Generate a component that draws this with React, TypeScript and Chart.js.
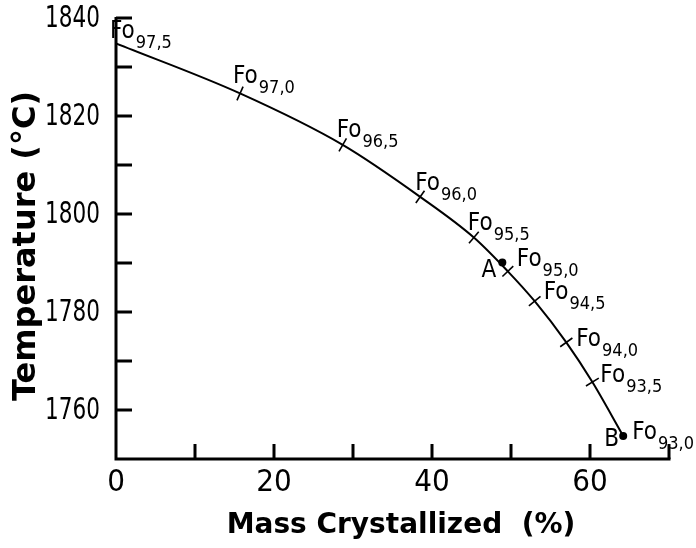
import React, { useEffect, useRef } from "react";
import { Chart, registerables } from "chart.js";

Chart.register(...registerables);

// Data
const massCrystallized = [0, 15.7, 28.7, 38.5, 45.3, 49.6, 53.0, 57.0, 60.3, 64.2];
const temperature = [1834.8, 1824.6, 1814.1, 1803.5, 1795.2, 1788.3, 1782.2, 1773.8, 1765.7, 1754.7];
const foLabels = ["97,5", "97,0", "96,5", "96,0", "95,5", "95,0", "94,5", "94,0", "93,5", "93,0"];
const pointNames = ["A", "B"];
const pointMass = [48.9, 64.2];
const pointTemp = [1790.1, 1754.7];
const xTickLabels = [0, 20, 40, 60];
const xTickMarks = [10, 20, 30, 40, 50, 60, 70];
const yTickLabels = [1760, 1780, 1800, 1820, 1840];
const yTickMarks = [1760, 1770, 1780, 1790, 1800, 1810, 1820, 1830, 1840];

// label placement (px offsets from the mark: dx, baseline dy)
const foOffsets = [
  [-6, -5], [-7, -10], [-6, -8], [-5, -7], [-6, -8],
  [9, -5], [9, -2], [10, 4], [8, 0], [9, 3],
];
const abOffsets = [
  [-6, 14], [-4, 10],
];

const X_MIN = 0, X_MAX = 70, Y_MIN = 1750, Y_MAX = 1840;
const FONT = "'DejaVu Sans Condensed', 'DejaVu Sans', sans-serif";
const BOLD = "'DejaVu Sans', sans-serif";

const overlay = {
  id: "overlay",
  afterDatasetsDraw(chart: any) {
    const { ctx } = chart;
    const xs = chart.scales.x, ys = chart.scales.y;
    const x0 = xs.getPixelForValue(X_MIN);
    const y0 = ys.getPixelForValue(Y_MIN);
    ctx.save();
    ctx.strokeStyle = "#000";
    ctx.fillStyle = "#000";
    ctx.lineWidth = 3;
    ctx.lineCap = "butt";
    ctx.beginPath();
    ctx.moveTo(x0, ys.getPixelForValue(Y_MAX) - 1);
    ctx.lineTo(x0, y0);
    ctx.lineTo(xs.getPixelForValue(X_MAX) + 1.5, y0);
    ctx.stroke();
    ctx.beginPath();
    for (const v of xTickMarks) {
      const px = xs.getPixelForValue(v);
      ctx.moveTo(px, y0);
      ctx.lineTo(px, y0 - 15);
    }
    for (const v of yTickMarks) {
      const py = ys.getPixelForValue(v);
      ctx.moveTo(x0, py);
      ctx.lineTo(x0 + 16, py);
    }
    ctx.stroke();

    // y tick labels (narrow)
    ctx.font = `30px ${FONT}`;
    ctx.textAlign = "right";
    ctx.textBaseline = "middle";
    for (const v of yTickLabels) {
      const py = ys.getPixelForValue(v);
      ctx.save();
      ctx.translate(x0 - 16, py + 1);
      ctx.scale(0.8, 1);
      ctx.fillText(String(v), 0, 0);
      ctx.restore();
    }

    // Fo labels
    ctx.textBaseline = "alphabetic";
    ctx.textAlign = "left";
    foLabels.forEach((lab, i) => {
      const px = xs.getPixelForValue(massCrystallized[i]) + foOffsets[i][0];
      const py = ys.getPixelForValue(temperature[i]) + foOffsets[i][1];
      ctx.font = `24px ${FONT}`;
      ctx.fillText("Fo", px, py);
      const w = ctx.measureText("Fo").width;
      ctx.font = `18px ${FONT}`;
      ctx.fillText(lab, px + w + 1, py + 10);
    });

    // A, B
    ctx.font = `24px ${FONT}`;
    ctx.textAlign = "right";
    pointNames.forEach((n, i) => {
      const px = xs.getPixelForValue(pointMass[i]) + abOffsets[i][0];
      const py = ys.getPixelForValue(pointTemp[i]) + abOffsets[i][1];
      ctx.fillText(n, px, py);
    });

    // axis titles
    ctx.font = `bold 28px ${BOLD}`;
    ctx.textAlign = "center";
    ctx.textBaseline = "alphabetic";
    ctx.fillText("Mass Crystallized  (%)", 401, 533);
    ctx.save();
    ctx.translate(35, 246);
    ctx.rotate(-Math.PI / 2);
    ctx.font = `bold 32px ${BOLD}`;
    ctx.fillText("Temperature (°C)", 0, 0);
    ctx.restore();
    ctx.restore();
  },
};

export default function App() {
  const ref = useRef<HTMLCanvasElement | null>(null);
  useEffect(() => {
    if (!ref.current) return;
    const n = massCrystallized.length;
    const chart = new Chart(ref.current, {
      type: "line",
      data: {
        datasets: [
          {
            data: massCrystallized.map((x, i) => ({ x, y: temperature[i] })),
            borderColor: "#000",
            borderWidth: 2,
            cubicInterpolationMode: "monotone",
            pointStyle: "line",
            pointRadius: (c: any) => (c.dataIndex === 0 || c.dataIndex === n - 1 ? 0 : 7.5),
            pointBorderWidth: 1.6,
            pointBorderColor: "#000",
            pointRotation: (c: any) => {
              const xs = c.chart.scales.x, ys = c.chart.scales.y;
              if (!xs || !ys) return 0;
              const i = c.dataIndex;
              const a = Math.max(0, i - 1), b = Math.min(n - 1, i + 1);
              const dx = xs.getPixelForValue(massCrystallized[b]) - xs.getPixelForValue(massCrystallized[a]);
              const dy = ys.getPixelForValue(temperature[b]) - ys.getPixelForValue(temperature[a]);
              return (Math.atan2(dy, dx) * 180) / Math.PI + 90;
            },
            fill: false,
          } as any,
          {
            data: pointMass.map((x, i) => ({ x, y: pointTemp[i] })),
            showLine: false,
            pointStyle: "circle",
            pointRadius: 4,
            pointBackgroundColor: "#000",
            pointBorderColor: "#000",
            pointBorderWidth: 0,
          } as any,
        ],
      },
      options: {
        animation: false,
        responsive: false,
        events: [],
        layout: { padding: { top: 18, right: 27, left: 0, bottom: 0 } },
        plugins: { legend: { display: false }, tooltip: { enabled: false } },
        scales: {
          x: {
            type: "linear",
            min: X_MIN,
            max: X_MAX,
            grid: { display: false, drawTicks: false },
            border: { display: false },
            afterBuildTicks: (s: any) => {
              s.ticks = xTickLabels.map((v) => ({ value: v }));
            },
            afterFit: (s: any) => {
              s.height = 89;
              s.paddingLeft = 0;
              s.paddingRight = 0;
            },
            ticks: {
              color: "#000",
              padding: 5,
              maxRotation: 0,
              autoSkip: false,
              font: { family: FONT, size: 31 },
            },
          },
          y: {
            type: "linear",
            min: Y_MIN,
            max: Y_MAX,
            grid: { display: false, drawTicks: false },
            border: { display: false },
            afterBuildTicks: (s: any) => {
              s.ticks = yTickLabels.map((v) => ({ value: v }));
            },
            afterFit: (s: any) => {
              s.width = 116;
              s.paddingTop = 0;
              s.paddingBottom = 0;
            },
            ticks: { display: false },
          },
        },
      },
      plugins: [overlay],
    });
    return () => chart.destroy();
  }, []);
  return (
    <div style={{ position: "absolute", left: 0, top: 0, width: 696, height: 548, background: "#fff" }}>
      <canvas ref={ref} width={696} height={548} style={{ width: 696, height: 548 }} />
    </div>
  );
}
